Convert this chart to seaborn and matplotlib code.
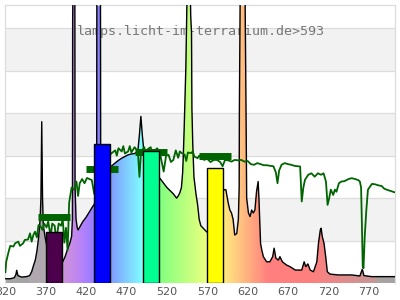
import numpy as np
import matplotlib
matplotlib.use("Agg")
import matplotlib.pyplot as plt
from matplotlib.patches import Polygon
import seaborn as sns

# ---------------- data ----------------
lamp_wl = [320, 326, 331, 333, 334, 335.5, 340, 346, 350, 352.5, 355, 357, 359, 361, 363, 364,
           365, 366, 367, 369, 372, 376, 380, 384, 388, 391, 394, 397, 400, 402, 403,
           403.3, 404, 406, 406.3, 407.5, 409, 410, 413, 416, 420, 424, 428, 430, 432,
           433, 433.3, 437.7, 438, 441, 444, 448, 451, 455.7, 460, 464, 468, 472, 476,
           480, 484, 486, 487.8, 489.5, 491.5, 495, 500, 505, 508, 512, 516, 520, 524,
           528, 532, 534, 536, 538, 539.5, 540.5, 541.5, 543.5, 544.5, 545.5, 548.5, 549.5,
           550.5, 551, 552, 553.5, 556, 558, 560, 562, 565, 569, 572, 580, 586, 589, 591,
           593, 596, 598, 600, 602, 604, 606.5, 608.5, 609.5, 609.8, 611, 616.5, 618, 618.8,
           621, 623, 625, 627, 629, 631, 633, 634, 636, 637.5, 639.5, 643.5, 647.5, 651,
           652.8, 655, 658, 660, 663, 668, 672.5, 679, 687, 690, 692, 694.6, 697.5, 701.5,
           705.7, 707.7, 710, 711, 712.5, 714.6, 716.7, 718.7, 722, 732, 749, 759, 762,
           764, 773.6, 790, 803]
lamp_val = [0.02, 0.02, 0.025, 0.04, 0.06, 0.035, 0.028, 0.03, 0.035, 0.053, 0.085, 0.108, 0.15, 0.21, 0.30, 0.40,
            0.76, 0.40, 0.27, 0.22, 0.16, 0.12, 0.10, 0.09, 0.09, 0.10, 0.125, 0.16, 0.19, 0.22, 0.30,
            1.24, 1.5, 1.5, 0.45, 0.30, 0.26, 0.25, 0.27, 0.29, 0.31, 0.335, 0.36, 0.37, 0.40,
            0.5, 1.5, 1.5, 0.6, 0.52, 0.53, 0.54, 0.55, 0.565, 0.578, 0.588, 0.596, 0.604, 0.608,
            0.61, 0.62, 0.70, 0.785, 0.70, 0.62, 0.60, 0.58, 0.54, 0.51, 0.49, 0.47, 0.45, 0.435,
            0.42, 0.40, 0.41, 0.425, 0.45, 0.52, 0.62, 0.74, 1.02, 1.24, 1.5, 1.5, 1.26,
            1.18, 0.82, 0.66, 0.50, 0.42, 0.37, 0.30, 0.27, 0.258, 0.242, 0.235, 0.30, 0.40, 0.43, 0.44,
            0.44, 0.376, 0.344, 0.33, 0.30, 0.226, 0.233, 0.30, 0.45, 0.825, 1.5, 1.5, 0.825, 0.40,
            0.33, 0.313, 0.344, 0.33, 0.344, 0.43, 0.478, 0.40, 0.187, 0.156, 0.124, 0.10, 0.10, 0.124,
            0.164, 0.117, 0.108, 0.124, 0.10, 0.085, 0.077, 0.061, 0.061, 0.10, 0.077, 0.09, 0.061, 0.053,
            0.10, 0.187, 0.25, 0.258, 0.218, 0.187, 0.124, 0.053, 0.042, 0.038, 0.038, 0.033, 0.065,
            0.035, 0.03, 0.03, 0.03]

sun_wl = [320, 321, 322.5, 324, 326, 330, 332, 336, 338, 342, 344, 348, 350.5, 352.5, 354.6, 356.7,
          359, 361, 363, 366, 368, 371, 373, 376, 378, 381, 383, 386, 389, 391, 393, 395,
          397, 399, 402, 405, 408, 410, 412, 415, 418, 421, 424, 427, 430, 433, 436, 440,
          444, 448, 452, 456, 458, 460, 464, 466, 468, 472, 474, 476, 480, 484, 486, 488,
          492, 494, 496, 500, 502, 504, 508, 512, 516, 519, 522, 525, 528, 531, 534, 536,
          538, 542, 544, 546, 550, 552, 554, 558, 560, 562, 566, 570, 574, 578, 582, 586,
          589, 592, 596, 600, 604, 608, 612, 616, 620, 624, 628, 632, 636, 640, 644, 648,
          652, 655, 657, 659, 662, 666, 670, 674, 678, 682, 685, 687, 689, 691, 695, 699,
          703, 707, 711, 714, 717, 719, 721, 723, 726, 728, 730, 733, 736, 740, 745, 749,
          753, 757, 759, 760.5, 761.5, 762.5, 763.5, 765, 767, 769, 771.5, 774, 778, 782,
          786, 789, 792, 796, 800, 804]
sun_val = [0.05, 0.10, 0.125, 0.148, 0.175, 0.172, 0.187, 0.195, 0.175, 0.187, 0.203, 0.205, 0.234, 0.195, 0.226, 0.242,
           0.215, 0.273, 0.27, 0.25, 0.28, 0.262, 0.29, 0.22, 0.28, 0.27, 0.20, 0.28, 0.27, 0.30, 0.19, 0.26,
           0.155, 0.38, 0.45, 0.44, 0.478, 0.41, 0.47, 0.49, 0.47, 0.495, 0.49, 0.485, 0.42, 0.50, 0.55, 0.58,
           0.60, 0.60, 0.613, 0.625, 0.60, 0.635, 0.62, 0.645, 0.61, 0.62, 0.645, 0.615, 0.64, 0.62, 0.50, 0.62,
           0.64, 0.60, 0.63, 0.64, 0.585, 0.62, 0.635, 0.60, 0.525, 0.60, 0.604, 0.57, 0.58, 0.625, 0.59, 0.62,
           0.613, 0.605, 0.575, 0.615, 0.612, 0.62, 0.596, 0.588, 0.60, 0.59, 0.58, 0.585, 0.57, 0.58, 0.58, 0.57,
           0.55, 0.58, 0.578, 0.572, 0.58, 0.578, 0.58, 0.572, 0.575, 0.56, 0.557, 0.565, 0.56, 0.555, 0.555, 0.552,
           0.55, 0.52, 0.47, 0.53, 0.557, 0.565, 0.56, 0.557, 0.552, 0.55, 0.549, 0.384, 0.45, 0.486, 0.51, 0.517,
           0.501, 0.517, 0.51, 0.517, 0.478, 0.368, 0.40, 0.44, 0.415, 0.44, 0.43, 0.47, 0.478, 0.48, 0.49, 0.494,
           0.49, 0.485, 0.478, 0.45, 0.28, 0.08, 0.07, 0.218, 0.344, 0.44, 0.454, 0.467, 0.465, 0.46,
           0.457, 0.445, 0.44, 0.435, 0.43, 0.425]

band_centers = [380, 440, 500, 580]
lamp_band_vals = [0.242, 0.654, 0.62, 0.541]
sun_band_vals = [0.313, 0.536, 0.615, 0.60]
tick_values = [320, 370, 420, 470, 520, 570, 620, 670, 720, 770]
title_text = "lamps.licht-im-terrarium.de>593"

# ---------------- style ----------------
bar_colors = ["#4c004c", "#0000ff", "#00ff90", "#ffff00"]
green = "#006400"
x_min, x_max = 320, 802.5
y_min, y_max = 0, 1.31

sns.set_style("white")
plt.rcParams["font.family"] = ["DejaVu Sans"]

fig = plt.figure(figsize=(4, 3), dpi=100)
ax = fig.add_axes([5.4 / 400, 17 / 300, 389.6 / 400, 278 / 300])
ax.set_xlim(x_min, x_max)
ax.set_ylim(y_min, y_max)

# background bands and grid
for lo in (0.2, 0.6, 1.0):
    ax.axhspan(lo, lo + 0.2, color="#f2f2f2", zorder=0, lw=0)
for g in np.arange(0.2, 1.3, 0.2):
    ax.axhline(g, color="#dcdcdc", lw=0.9, zorder=0.5)
for s in ax.spines.values():
    s.set_color("#dcdcdc")
    s.set_linewidth(0.9)
ax.spines["bottom"].set_visible(False)

ax.text(408.7, 1.184, title_text, family="DejaVu Sans Mono", fontsize=9.6,
        color="#777777", va="center", ha="left", zorder=1)


# wavelength -> pastel colour gradient for the fill
def wl_rgb(w):
    if w < 380:
        rgb = (0.0, 0.0, 0.0)
    elif w < 440:
        rgb = ((440 - w) / 60, 0.0, 1.0)
    elif w < 490:
        rgb = (0.0, (w - 440) / 50, 1.0)
    elif w < 510:
        rgb = (0.0, 1.0, (510 - w) / 20)
    elif w < 580:
        rgb = ((w - 510) / 70, 1.0, 0.0)
    elif w < 645:
        rgb = (1.0, (645 - w) / 65, 0.0)
    else:
        rgb = (1.0, 0.0, 0.0)
    if w < 380 or w > 780:
        f = 0.0
    elif w < 420:
        f = 0.3 + 0.7 * (w - 380) / 40
    elif w > 700:
        f = 0.3 + 0.7 * (780 - w) / 80
    else:
        f = 1.0
    if w < 350:
        gray = np.array([0.65, 0.65, 0.65])
    elif w < 600:
        gray = np.array([0.69, 0.66, 0.69])
    else:
        gray = np.array([0.66, 0.64, 0.64])
    pastel = 0.5 + 0.5 * np.array(rgb)
    return f * pastel + (1 - f) * gray


grid = np.arange(x_min, x_max + 1, 0.5)
img = np.array([[wl_rgb(w) for w in grid]])
im = ax.imshow(img, extent=(x_min, x_max + 1, y_min, y_max), aspect="auto",
               origin="lower", zorder=2, interpolation="nearest")
verts = [(lamp_wl[0], 0)] + list(zip(lamp_wl, lamp_val)) + [(lamp_wl[-1], 0)]
poly = Polygon(verts, closed=True, transform=ax.transData, facecolor="none", edgecolor="none")
ax.add_patch(poly)
im.set_clip_path(poly)

sns.lineplot(x=lamp_wl, y=lamp_val, color="black", lw=1.0, ax=ax, estimator=None,
             sort=False, zorder=3)
sns.lineplot(x=sun_wl, y=sun_val, color=green, lw=1.3, ax=ax, estimator=None,
             sort=False, zorder=4)

bc = np.array(band_centers)
ax.hlines(sun_band_vals, bc - 20, bc + 20, color=green, lw=5, zorder=5)
ax.bar(bc, lamp_band_vals, width=20, color=bar_colors, edgecolor="black",
       linewidth=1.0, zorder=6)

ax.set_xticks(tick_values)
ax.set_xticklabels([str(t) for t in tick_values])
ax.set_yticks([])
ax.tick_params(axis="x", length=0, pad=3, labelsize=8, labelcolor="#555555")
ax.set_xlabel("")
ax.set_ylabel("")
ax.set_xlim(x_min, x_max)
ax.set_ylim(y_min, y_max)

fig.savefig("out.png", dpi=100)
